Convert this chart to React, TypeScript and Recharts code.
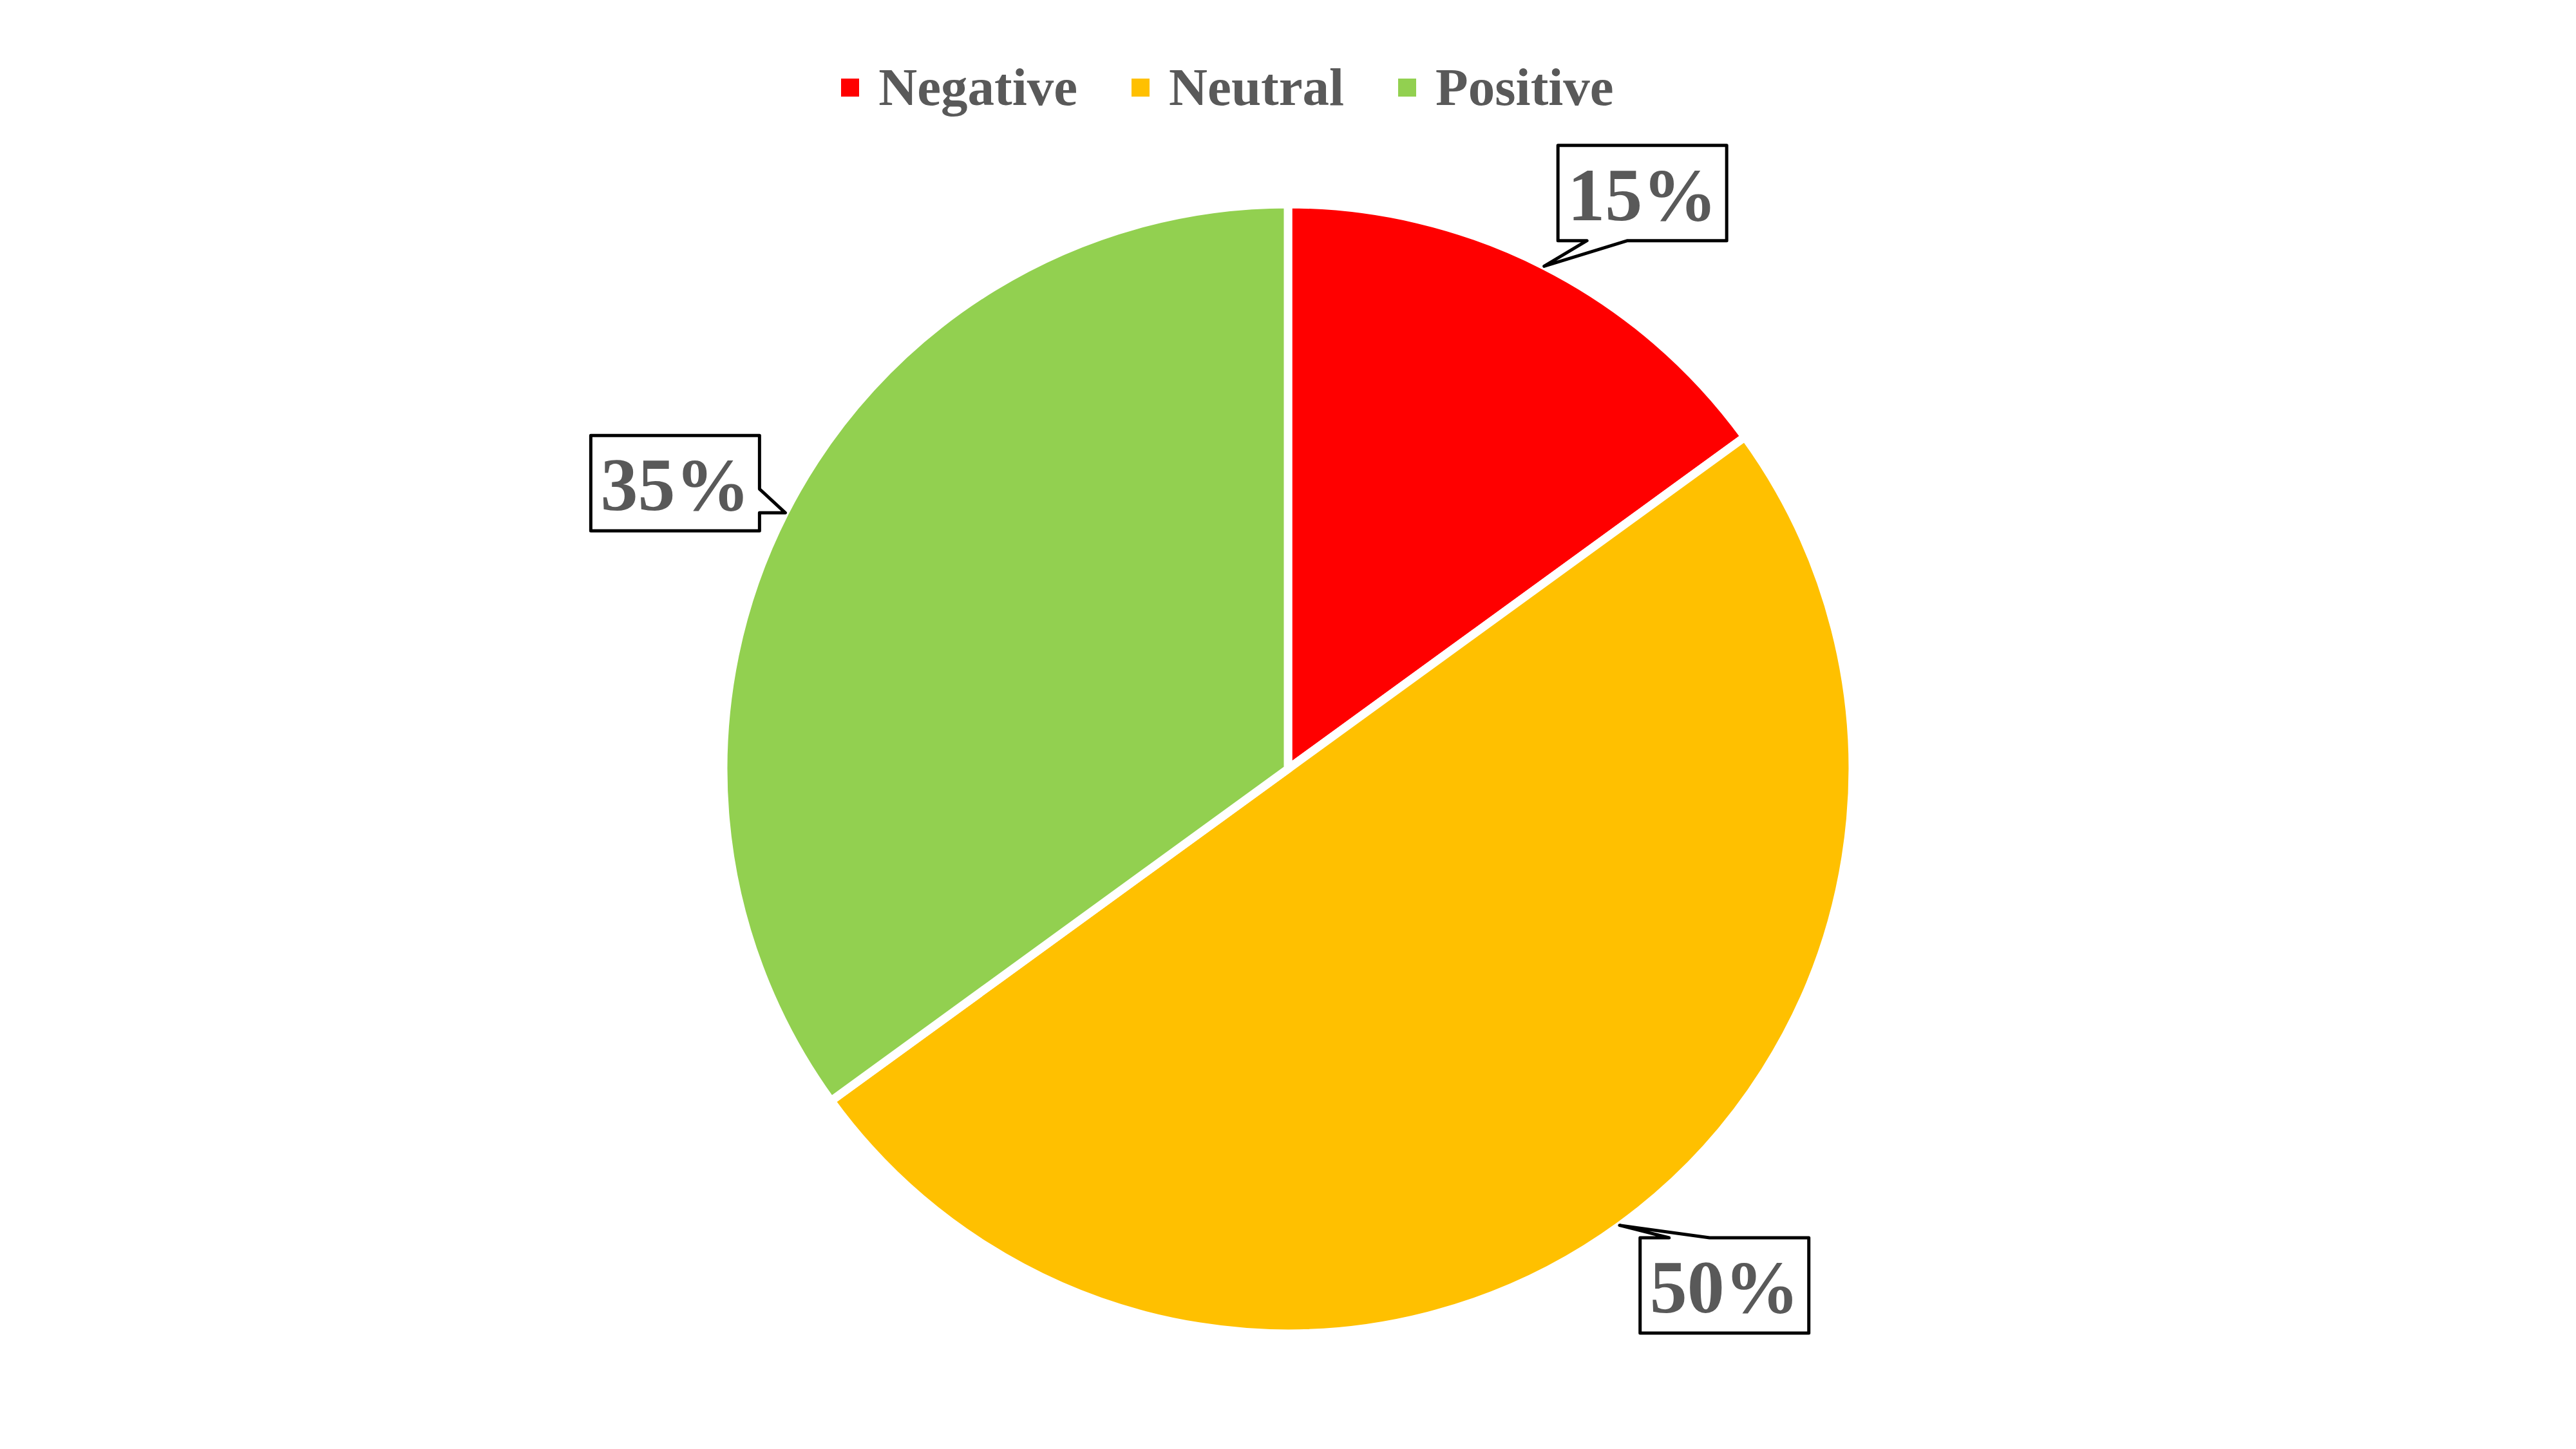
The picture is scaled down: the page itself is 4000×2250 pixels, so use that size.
import React from 'react';
import { PieChart, Pie, Cell } from 'recharts';

const sentiments = ['Negative', 'Neutral', 'Positive'];
const shares = [15, 50, 35];
const sliceColors = ['#FF0000', '#FFC000', '#92D050'];

const data = sentiments.map((name, i) => ({ name, value: shares[i] }));

const W = 4000;
const H = 2250;
const CX = 2000;
const CY = 1194;
const R = 877;
const FONT = '"Liberation Serif", "Times New Roman", serif';
const TEXT = '#595959';
const RAD = Math.PI / 180;

// callout boxes
const boxW = 262;
const boxH = 148;
const boxDist = 1050;
const labelAngleShift = [-4.6, 4.2, 2];

const calloutPath = (tx: number, ty: number, l: number, t: number, r: number, b: number) => {
  let pts: number[][];
  if (ty >= t && ty <= b) {
    const end = Math.min(ty, b - 25);
    const start = end - 37;
    if (tx > r) pts = [[l, t], [r, t], [r, start], [tx, ty], [r, end], [r, b], [l, b]];
    else pts = [[l, t], [r, t], [r, b], [l, b], [l, end], [tx, ty], [l, start]];
  } else {
    const s = Math.max(l + 45, Math.min(tx - 31, r - 108));
    const e = s + 63;
    if (ty < t) pts = [[l, t], [s, t], [tx, ty], [e, t], [r, t], [r, b], [l, b]];
    else pts = [[l, t], [r, t], [r, b], [e, b], [tx, ty], [s, b], [l, b]];
  }
  return 'M' + pts.map(p => `${p[0]},${p[1]}`).join('L') + 'Z';
};

const renderCallout = (props: any) => {
  const { cx, cy, midAngle, outerRadius, percent, index } = props;
  const tipR = outerRadius - 1;
  const tx = cx + tipR * Math.cos(-midAngle * RAD);
  const ty = cy + tipR * Math.sin(-midAngle * RAD);
  const a = midAngle + labelAngleShift[index];
  const bx = cx + boxDist * Math.cos(-a * RAD);
  const by = cy + boxDist * Math.sin(-a * RAD);
  const l = bx - boxW / 2;
  const t = by - boxH / 2;
  return (
    <g key={`callout-${index}`}>
      <path
        d={calloutPath(tx, ty, l, t, l + boxW, t + boxH)}
        fill="#fff"
        stroke="#000"
        strokeWidth={5}
        strokeLinejoin="round"
      />
      <text
        x={bx}
        y={by + 42}
        textAnchor="middle"
        fontFamily={FONT}
        fontWeight="bold"
        fontSize={116}
        fill={TEXT}
      >
        {`${Math.round(percent * 100)}%`}
      </text>
    </g>
  );
};

export default function App() {
  return (
    <div style={{ position: 'absolute', left: 0, top: 0, width: W, height: H, background: '#fff' }}>
      <div
        style={{
          position: 'absolute',
          top: 88,
          left: 0,
          width: W,
          paddingRight: 188,
          boxSizing: 'border-box',
          display: 'flex',
          justifyContent: 'center',
          alignItems: 'center',
          fontFamily: FONT,
          fontWeight: 'bold',
          fontSize: 83,
          lineHeight: '95px',
          color: TEXT,
          zIndex: 2,
        }}
      >
        {sentiments.map((name, i) => (
          <div
            key={name}
            style={{ display: 'flex', alignItems: 'center', marginRight: i < sentiments.length - 1 ? 84 : 0 }}
          >
            <div style={{ width: 28, height: 28, background: sliceColors[i], marginRight: 30 }} />
            <span>{name}</span>
          </div>
        ))}
      </div>
      <PieChart width={W} height={H} margin={{ top: 0, right: 0, bottom: 0, left: 0 }}>
        <Pie
          data={data}
          dataKey="value"
          nameKey="name"
          cx={CX}
          cy={CY}
          outerRadius={R}
          startAngle={90}
          endAngle={-270}
          stroke="#fff"
          strokeWidth={13}
          labelLine={false}
          label={renderCallout}
          isAnimationActive={false}
        >
          {data.map((entry, i) => (
            <Cell key={entry.name} fill={sliceColors[i]} />
          ))}
        </Pie>
      </PieChart>
    </div>
  );
}
